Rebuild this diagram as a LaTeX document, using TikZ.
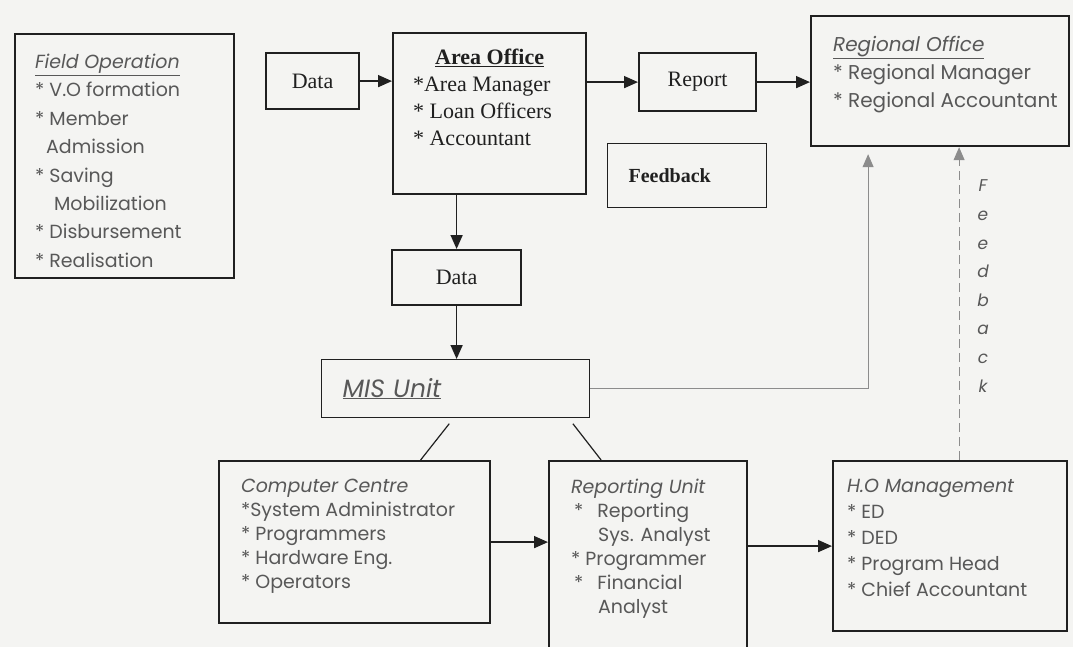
\documentclass[tikz,border=0pt]{standalone}
\usepackage{fontspec}
\setmainfont{Liberation Serif}
\newfontfamily\gothic{Poppins}
\usetikzlibrary{arrows.meta}
\definecolor{paper}{RGB}{244,244,242}
\definecolor{ink}{RGB}{32,32,32}
\definecolor{pencil}{RGB}{88,88,88}
\definecolor{fade}{RGB}{140,140,140}
\newcommand{\bul}{\mbox{*}}

\begin{document}
\begin{tikzpicture}[x=1pt, y=-1pt,
  boxframe/.style={draw=ink, line width=2.2pt, anchor=north west, inner sep=0pt},
  thinframe/.style={draw=ink, line width=1.2pt, anchor=north west},
  sanstext/.style={font=\gothic\fontsize{19}{24}\selectfont, text=pencil},
  seriftext/.style={font=\fontsize{22}{27}\selectfont, text=ink},
  flowarrow/.style={-{Triangle[length=14pt,width=12pt]}, line width=1.6pt, draw=ink},
  feedarrow/.style={-{Triangle[length=13pt,width=11pt]}, line width=1pt, draw=fade}
]
\useasboundingbox (0,0) rectangle (1073,647);
\fill[paper] (0,0) rectangle (1073,647);
\clip (0,0) rectangle (1073,647);

% top row
\node[boxframe, sanstext, font=\gothic\fontsize{19}{28.4}\selectfont, inner xsep=20pt, inner ysep=20pt] (fieldop) at (14,33)
  {\parbox[c][204pt][t]{179pt}{\raggedright
   \underline{\textit{Field Operation}}\\
   \bul\ V.O formation\\
   \bul\ Member\\
   \hspace*{11pt}Admission\\
   \bul\ Saving\\
   \hspace*{19pt}Mobilization\\
   \bul\ Disbursement\\
   \bul\ Realisation}};
\node[boxframe, seriftext, minimum width=93pt, minimum height=56pt] (data1) at (265,52) {Data};
\node[boxframe, seriftext, inner xsep=20pt, inner ysep=16pt] (area) at (392,32)
  {\parbox[c][129pt][t]{153pt}{{\centering\underline{\textbf{Area Office}}\par}\raggedright
   \bul Area Manager\\
   \bul\ Loan Officers\\
   \bul\ Accountant}};
\node[boxframe, seriftext, minimum width=117pt, minimum height=58pt] (report) at (638,52) {Report};
\node[boxframe, sanstext, font=\gothic\fontsize{20}{28}\selectfont, inner xsep=22pt, inner ysep=20pt] (regional) at (810,15)
  {\parbox[c][90pt][t]{214pt}{\raggedright
   \underline{\textit{Regional Office}}\\
   \mbox{\bul\ Regional Manager}\\
   \mbox{\bul\ Regional Accountant}}};
\node[thinframe, seriftext, font=\bfseries\fontsize{20}{24}\selectfont, text width=117pt, align=left, inner xsep=21pt, minimum height=64pt] (feedback) at (607,143) {Feedback};

% middle
\node[boxframe, seriftext, minimum width=129pt, minimum height=55pt] (data2) at (391,249) {Data};
\node[thinframe, sanstext, font=\gothic\itshape\fontsize{25}{28}\selectfont, text width=226pt, align=left, inner xsep=21pt, minimum height=58pt] (mis) at (321,359) {\underline{MIS Unit}};

% bottom row
\node[boxframe, sanstext, inner xsep=22pt, inner ysep=18pt] (cc) at (218,460)
  {\parbox[c][126pt][t]{227pt}{\raggedright
   \textit{Computer Centre}\\
   \bul System Administrator\\
   \bul\ Programmers\\
   \bul\ Hardware Eng.\\
   \bul\ Operators}};
\node[boxframe, sanstext, inner xsep=22pt, inner ysep=18pt] (ru) at (548,460)
  {\parbox[c][164pt][t]{154pt}{\raggedright
   \textit{Reporting Unit}\\
   \hspace*{3pt}\bul\hspace{14pt}Reporting\\
   \hspace*{27pt}Sys. Analyst\\
   \bul\ Programmer\\
   \hspace*{3pt}\bul\hspace{14pt}Financial\\
   \hspace*{27pt}Analyst}};
\node[boxframe, sanstext, font=\gothic\fontsize{19}{26}\selectfont, inner xsep=14pt, inner ysep=18pt] (ho) at (832,460)
  {\parbox[c][134pt][t]{206pt}{\raggedright
   \textit{H.O Management}\\
   \bul\ ED\\
   \bul\ DED\\
   \bul\ Program Head\\
   \bul\ Chief Accountant}};
\node[sanstext, font=\gothic\itshape\fontsize{17}{28.6}\selectfont, align=center] (fblabel) at (983,286)
  {F\\e\\e\\d\\b\\a\\c\\k};

% connectors
\draw[flowarrow] (data1.east) -- (data1.east -| area.west);
\draw[flowarrow] (area.east |- report.west) -- (report.west);
\draw[flowarrow] (report.east) -- (report.east -| regional.west);
\draw[flowarrow] (area.south -| data2.north) -- (data2.north);
\draw[flowarrow] (data2.south) -- (data2.south |- mis.north);
\draw[feedarrow, shorten >=7pt] (mis.east) -| ([xshift=-72pt]regional.south);
\draw[feedarrow, dash pattern=on 9pt off 5pt] ([xshift=9pt]ho.north) -- ([xshift=9pt]ho.north |- regional.south);
\draw[line width=1.2pt, draw=ink, shorten <=7pt] ([xshift=-2pt]mis.south) -- ([xshift=66pt]cc.north);
\draw[line width=1.2pt, draw=ink, shorten <=7pt] ([xshift=113pt]mis.south) -- ([xshift=-47pt]ru.north);
\draw[flowarrow] (cc.east) -- (cc.east -| ru.west);
\draw[flowarrow] (ho.west -| ru.east) -- (ho.west);
\end{tikzpicture}
\end{document}
